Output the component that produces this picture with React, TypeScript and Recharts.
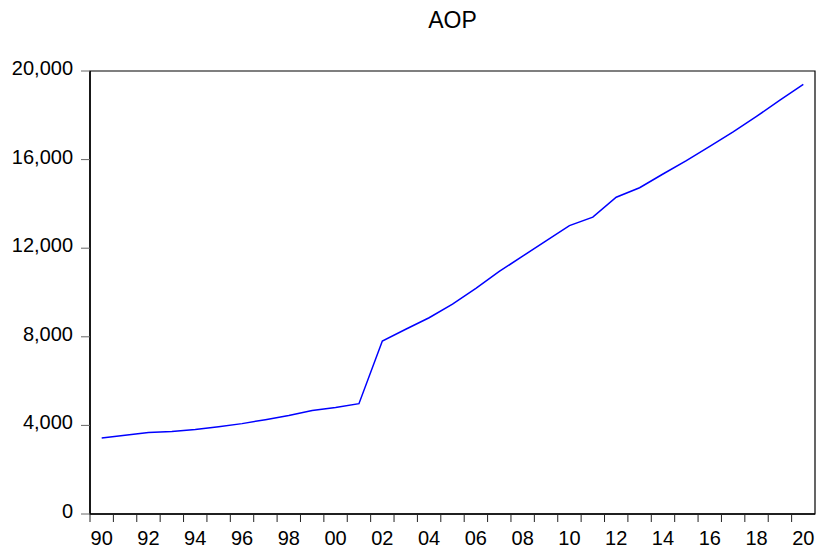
import React from 'react';
import { LineChart, Line, XAxis, YAxis, ReferenceArea } from 'recharts';

const years = [1990, 1991, 1992, 1993, 1994, 1995, 1996, 1997, 1998, 1999, 2000, 2001, 2002, 2003, 2004, 2005, 2006, 2007, 2008, 2009, 2010, 2011, 2012, 2013, 2014, 2015, 2016, 2017, 2018, 2019, 2020];
const aop = [3430, 3560, 3680, 3730, 3810, 3940, 4080, 4260, 4450, 4670, 4810, 4980, 7810, 8340, 8860, 9470, 10190, 10950, 11640, 12330, 13020, 13400, 14300, 14730, 15350, 15950, 16600, 17250, 17950, 18680, 19400];
const yTicks = [0, 4000, 8000, 12000, 16000, 20000];
const labelYears = [1990, 1992, 1994, 1996, 1998, 2000, 2002, 2004, 2006, 2008, 2010, 2012, 2014, 2016, 2018, 2020];

const data = years.map((y, i) => ({ year: y, aop: aop[i] }));

const FONT = '"Liberation Sans", Arial, sans-serif';
const PLOT_W = 725;
const STEP = PLOT_W / years.length;

const XTick = (props: any) => {
  const { x, y, payload } = props;
  const yr = payload.value as number;
  const bx = x - STEP / 2;
  return (
    <g>
      <line x1={bx} y1={y - 8} x2={bx} y2={y} stroke="#222" strokeWidth={1} />
      {labelYears.includes(yr) ? (
        <text x={x} y={y + 23} textAnchor="middle" fontSize={20} fontFamily={FONT} fill="#000">
          {String(yr).slice(2)}
        </text>
      ) : null}
    </g>
  );
};

const YTick = (props: any) => {
  const { x, y, payload } = props;
  return (
    <text x={x} y={y + 4} textAnchor="end" fontSize={20} fontFamily={FONT} fill="#000">
      {Number(payload.value).toLocaleString('en-US')}
    </text>
  );
};

export default function App() {
  return (
    <div style={{ position: 'absolute', left: 0, top: 0, width: 816, height: 549, background: '#fff' }}>
      <div
        style={{
          position: 'absolute',
          left: 90,
          width: 725,
          top: 6,
          textAlign: 'center',
          fontFamily: FONT,
          fontSize: 23,
          color: '#000',
          lineHeight: '28px',
        }}
      >
        AOP
      </div>
      <LineChart width={816} height={549} data={data} margin={{ top: 71, right: 1, left: 0, bottom: 0 }}>
        <XAxis
          dataKey="year"
          type="number"
          domain={[1989.5, 2020.5]}
          ticks={years}
          interval={0}
          tickLine={false}
          tickSize={8}
          tickMargin={0}
          height={35}
          axisLine={{ stroke: '#000', strokeWidth: 1.5 }}
          tick={<XTick />}
        />
        <YAxis
          type="number"
          domain={[0, 20000]}
          ticks={yTicks}
          interval={0}
          width={90}
          tickSize={9}
          tickMargin={8}
          tickLine={{ stroke: '#666' }}
          axisLine={{ stroke: '#000', strokeWidth: 1.5 }}
          tick={<YTick />}
        />
        <ReferenceArea x1={1989.5} x2={2020.5} y1={0} y2={20000} fill="none" stroke="#000" strokeWidth={1.2} fillOpacity={0} ifOverflow="visible" />
        <Line type="linear" dataKey="aop" stroke="#0000FF" strokeWidth={1.5} dot={false} isAnimationActive={false} />
      </LineChart>
    </div>
  );
}
